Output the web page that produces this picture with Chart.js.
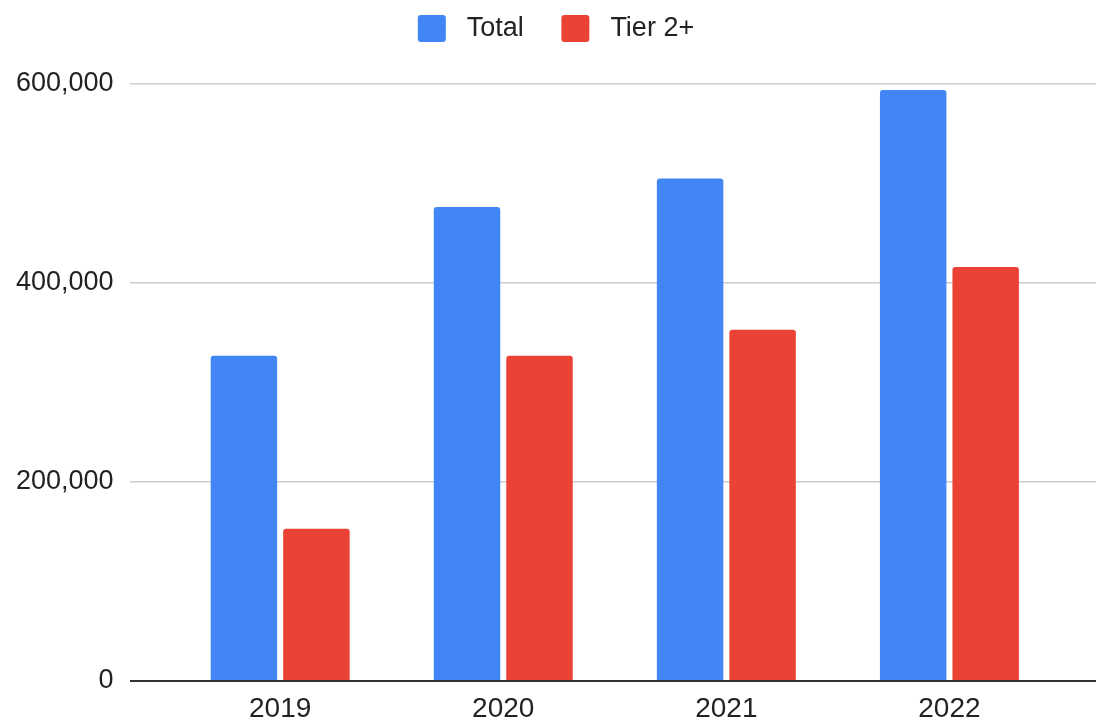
<!DOCTYPE html>
<html>
<head>
<meta charset="utf-8">
<script src="https://cdn.jsdelivr.net/npm/chart.js@4/dist/chart.umd.min.js"></script>
<style>
  html, body { margin: 0; padding: 0; background: #fff; }
  #wrap { width: 1096px; height: 721px; }
</style>
</head>
<body>
<div id="wrap"><canvas id="chart" width="1096" height="721"></canvas></div>
<script>
const years = [2019, 2020, 2021, 2022];
const totalValues = [327000, 476500, 505000, 594000];
const tier2Values = [153000, 327000, 353000, 416000];
const yTicks = [0, 200000, 400000, 600000];

const fontFamily = "'Liberation Sans', Arial, sans-serif";

const toPoints = vals => years.map((y, i) => ({ x: y, y: vals[i] }));

// legend sits high and a bit right of centre, plot starts lower
const legendGap = {
  id: 'legendGap',
  beforeInit(chart) {
    const fit = chart.legend.fit;
    chart.legend.fit = function () {
      fit.call(this);
      this.height += 32;
      if (this.lineWidths) this.lineWidths[0] -= 16;
    };
  }
};

const ctx = document.getElementById('chart').getContext('2d');
new Chart(ctx, {
  type: 'bar',
  data: {
    datasets: [{
      label: 'Total',
      data: toPoints(totalValues),
      backgroundColor: '#4285F4',
      borderRadius: { topLeft: 3, topRight: 3 },
      borderSkipped: 'start'
    }, {
      label: 'Tier 2+',
      data: toPoints(tier2Values),
      backgroundColor: '#EA4335',
      borderRadius: { topLeft: 3, topRight: 3 },
      borderSkipped: 'start'
    }]
  },
  plugins: [legendGap],
  options: {
    responsive: false,
    devicePixelRatio: 1,
    animation: false,
    categoryPercentage: 0.65,
    barPercentage: 0.917,
    layout: { padding: { top: 0, left: 0, right: 0, bottom: -16 } },
    plugins: {
      tooltip: { enabled: false },
      legend: {
        position: 'top',
        labels: {
          font: { family: fontFamily, size: 27 },
          color: '#222',
          boxWidth: 28,
          boxHeight: 27,
          useBorderRadius: true,
          borderRadius: 3,
          padding: 15,
          generateLabels(chart) {
            const items = Chart.defaults.plugins.legend.labels.generateLabels(chart);
            items.forEach((it, i) => {
              it.text = ' ' + it.text + (i === 0 ? '   ' : '');
              it.lineWidth = 0;
            });
            return items;
          }
        }
      }
    },
    scales: {
      x: {
        type: 'linear',
        offset: false,
        min: 2018.325,
        max: 2022.657,
        grid: { display: false, drawTicks: false },
        border: { display: false },
        ticks: {
          stepSize: 1,
          includeBounds: false,
          autoSkip: false,
          maxRotation: 0,
          padding: 14,
          color: '#222',
          font: { family: fontFamily, size: 28, lineHeight: 1 },
          callback: v => years.includes(v) ? String(v) : ''
        }
      },
      y: {
        min: 0,
        max: 600000,
        afterBuildTicks: axis => { axis.ticks = yTicks.map(v => ({ value: v })); },
        border: { display: false },
        grid: {
          drawTicks: false,
          color: c => (c.tick && c.tick.value === 0) ? '#333' : '#cccccc',
          lineWidth: c => (c.tick && c.tick.value === 0) ? 2 : 1.5
        },
        ticks: {
          padding: 16,
          color: '#222',
          font: { family: fontFamily, size: 27 },
          callback: v => v.toLocaleString('en-US')
        }
      }
    }
  }
});
</script>
</body>
</html>
